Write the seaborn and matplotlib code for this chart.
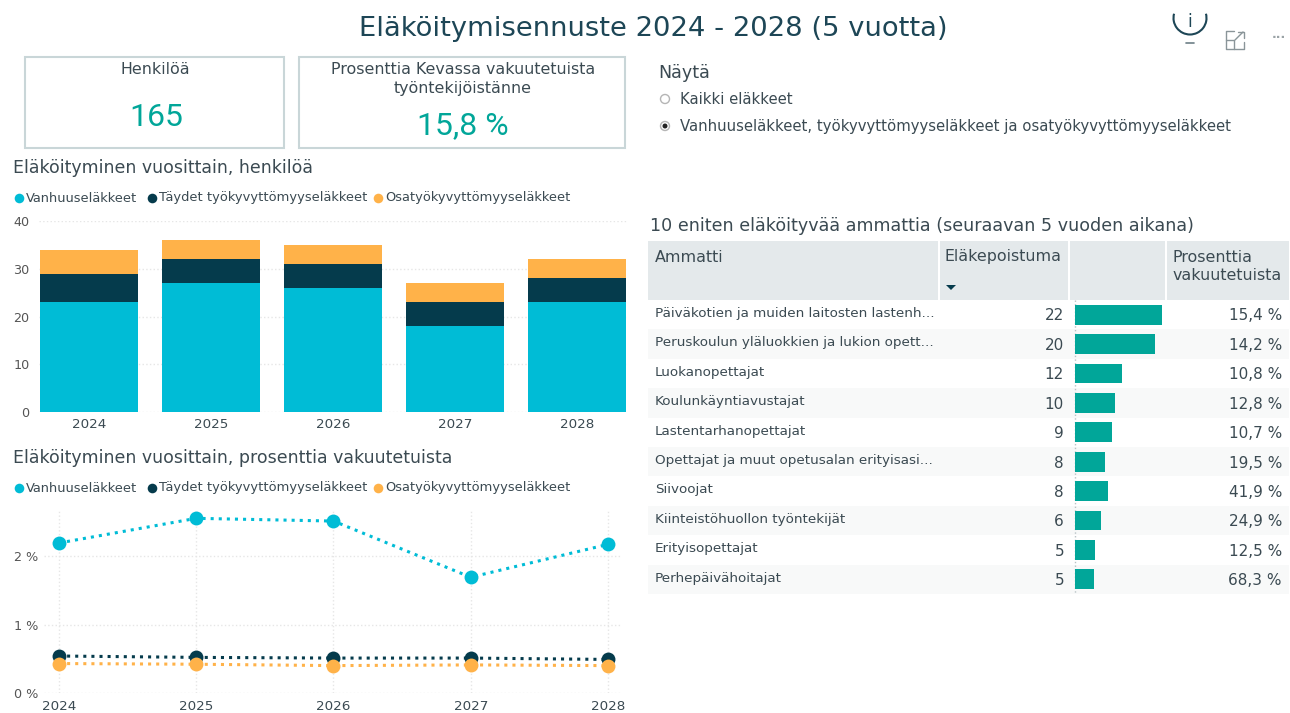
import numpy as np
import pandas as pd
import matplotlib
matplotlib.use("Agg")
import matplotlib.pyplot as plt
from matplotlib.patches import Rectangle, Circle, Arc
import seaborn as sns

years = ["2024", "2025", "2026", "2027", "2028"]
series_names = ["Vanhuuseläkkeet", "Täydet työkyvyttömyyseläkkeet", "Osatyökyvyttömyyseläkkeet"]
persons_old = [23, 27, 26, 18, 23]
persons_full = [6, 5, 5, 5, 5]
persons_part = [5, 4, 4, 4, 4]
pct_old = [2.19, 2.55, 2.51, 1.69, 2.17]
pct_full = [0.54, 0.52, 0.51, 0.51, 0.49]
pct_part = [0.43, 0.42, 0.40, 0.41, 0.40]

occupations = [
    "Päiväkotien ja muiden laitosten lastenh...",
    "Peruskoulun yläluokkien ja lukion opett...",
    "Luokanopettajat",
    "Koulunkäyntiavustajat",
    "Lastentarhanopettajat",
    "Opettajat ja muut opetusalan erityisasi...",
    "Siivoojat",
    "Kiinteistöhuollon työntekijät",
    "Erityisopettajat",
    "Perhepäivähoitajat",
]
retiring_labels = ["22", "20", "12", "10", "9", "8", "8", "6", "5", "5"]
retiring_values = [22, 20.2, 11.9, 10.1, 9.4, 7.6, 8.4, 6.6, 5.1, 4.8]
pct_labels = ["15,4 %", "14,2 %", "10,8 %", "12,8 %", "10,7 %", "19,5 %", "41,9 %", "24,9 %", "12,5 %", "68,3 %"]

CYAN = "#00bcd6"
DARK = "#053b4c"
ORANGE = "#ffb249"
TEAL = "#01a699"
TXT = "#3b4a52"
colors = [CYAN, DARK, ORANGE]

sns.set_theme(style="white")
plt.rcParams["font.family"] = ["DejaVu Sans"]

W, H = 1290, 713
fig = plt.figure(figsize=(W / 100, H / 100), dpi=100, facecolor="white")


def px_axes(x0, y0, x1, y1, **kw):
    return fig.add_axes([x0 / W, 1 - y1 / H, (x1 - x0) / W, (y1 - y0) / H], **kw)


# overlay in pixel coordinates for text, cards and the table background
ov = px_axes(0, 0, W, H, zorder=0)
ov.set_xlim(0, W)
ov.set_ylim(H, 0)
ov.axis("off")

ov.text(653, 29, "Eläköitymisennuste 2024 - 2028 (5 vuotta)", fontsize=19.7, color="#1d4656",
        ha="center", va="center")

# kpi cards
for x0, y0, x1, y1 in [(25, 57, 284, 148), (299, 57, 625, 148)]:
    ov.add_patch(Rectangle((x0, y0), x1 - x0, y1 - y0, fill=False, ec="#c9d6d8", lw=1.5))
ov.text(155, 69, "Henkilöä", fontsize=11.4, color=TXT, ha="center", va="center")
ov.text(463, 69, "Prosenttia Kevassa vakuutetuista", fontsize=11.4, color=TXT, ha="center", va="center")
ov.text(463, 88, "työntekijöistänne", fontsize=11.4, color=TXT, ha="center", va="center")
ov.text(156, 117, "165", fontsize=23, color=TEAL, ha="center", va="center", family="Roboto")
ov.text(463, 126, "15,8 %", fontsize=23, color=TEAL, ha="center", va="center", family="Roboto")

# slicer
ov.text(658, 73, "Näytä", fontsize=12.6, color=TXT, va="center")
ov.text(680, 99, "Kaikki eläkkeet", fontsize=10.7, color=TXT, va="center")
ov.text(680, 126, "Vanhuuseläkkeet, työkyvyttömyyseläkkeet ja osatyökyvyttömyyseläkkeet", fontsize=10.7,
        color=TXT, va="center")
ov.add_patch(Circle((665, 99), 4.5, fc="white", ec="#b5b5b5", lw=1))
ov.add_patch(Circle((665, 126), 4.5, fc="white", ec="#b5b5b5", lw=1))
ov.add_patch(Circle((665, 126), 2.5, fc="#222222", ec="none"))

# header icons
ov.add_patch(Arc((1190, 18), 33, 33, theta1=-15, theta2=195, ec="#1d4656", lw=1.5))
ov.text(1190, 22, "i", fontsize=12, color="#1d4656", ha="center", va="center")
ov.plot([1186, 1194], [43, 43], color="#6d7f86", lw=1.2)
ov.plot([1234, 1226, 1226, 1244, 1244], [31, 31, 49, 49, 42], color="#8a9599", lw=1)
ov.plot([1226, 1234, 1234], [40, 40, 49], color="#8a9599", lw=1)
ov.plot([1235, 1243], [40, 32], color="#8a9599", lw=1)
ov.plot([1238, 1244, 1244], [32, 32, 38], color="#8a9599", lw=1)
ov.text(1279, 37, "···", fontsize=9, color="#9aa3a6", ha="center", va="center", fontweight="bold")

# chart titles and legends
ov.text(13, 168, "Eläköityminen vuosittain, henkilöä", fontsize=12.5, color=TXT, va="center")
ov.text(13, 458, "Eläköityminen vuosittain, prosenttia vakuutetuista", fontsize=12.5, color=TXT, va="center")
for ly in (198, 488):
    for name, color, mx, tx in zip(series_names, colors, (19, 152, 378), (26, 159, 385)):
        ov.scatter([mx], [ly], s=48, color=color, linewidths=0)
        ov.text(tx, ly, name, fontsize=9.4, color=TXT, va="center")

# stacked bars
bar_df = pd.DataFrame({"year": years, "old": persons_old, "full": persons_full, "part": persons_part})
ax1 = px_axes(39, 221, 627, 412, zorder=2)
ax1.patch.set_alpha(0)
ax1.grid(True, ls=":", color="#e6e6e6", lw=1)
ax1.set_axisbelow(True)
bottom = np.zeros(len(years))
for col, color in zip(["old", "full", "part"], colors):
    sns.barplot(data=bar_df, x="year", y=col, color=color, width=0.8, bottom=bottom, ax=ax1,
                saturation=1, linewidth=0)
    bottom = bottom + bar_df[col].values
ax1.set_xlim(-0.41, 4.41)
ax1.set_ylim(0, 40)
ax1.set_yticks([0, 10, 20, 30, 40])
ax1.set_xlabel("")
ax1.set_ylabel("")
ax1.tick_params(axis="y", length=0, pad=6.8, labelsize=9.2, labelcolor="#555555")
ax1.tick_params(axis="x", length=0, pad=4, labelsize=9.7, labelcolor=TXT)
sns.despine(ax=ax1, left=True, bottom=True, top=True, right=True)

# dotted lines
line_df = pd.DataFrame({
    "year": list(range(5)) * 3,
    "value": pct_old + pct_full + pct_part,
    "series": sum([[n] * 5 for n in series_names], []),
})
ax2 = px_axes(44, 511, 622, 693, zorder=2)
ax2.patch.set_alpha(0)
ax2.grid(True, ls=":", color="#e6e6e6", lw=1)
ax2.set_axisbelow(True)
sns.lineplot(data=line_df, x="year", y="value", hue="series", hue_order=series_names, palette=colors,
             marker="o", markersize=10, markeredgewidth=0, linestyle=":", linewidth=2.2, legend=False,
             clip_on=False, ax=ax2)
ax2.set_xlim(-15 / 137.25, 4 + 14 / 137.25)
ax2.set_ylim(0, 182 / 68.5)
ax2.set_xticks(range(5), years)
ax2.set_yticks([0, 1, 2], ["0 %", "1 %", "2 %"])
ax2.set_xlabel("")
ax2.set_ylabel("")
ax2.tick_params(axis="y", length=0, pad=4, labelsize=9.2, labelcolor="#555555")
ax2.tick_params(axis="x", length=0, pad=5, labelsize=9.7, labelcolor=TXT)
sns.despine(ax=ax2, left=True, bottom=True, top=True, right=True)

# table
ov.text(650, 226, "10 eniten eläköityvää ammattia (seuraavan 5 vuoden aikana)", fontsize=12.6, color=TXT,
        va="center")
for x0, x1 in [(648, 938), (940, 1068), (1070, 1165), (1167, 1289)]:
    ov.add_patch(Rectangle((x0, 241), x1 - x0, 59, fc="#e4e9eb", ec="none"))
ov.text(655, 257, "Ammatti", fontsize=11.4, color=TXT, va="center")
ov.text(945, 257, "Eläkepoistuma", fontsize=11.4, color=TXT, va="center")
ov.text(1173, 257, "Prosenttia", fontsize=11.4, color=TXT, va="center")
ov.text(1173, 276, "vakuutetuista", fontsize=11.4, color=TXT, va="center")
ov.fill([946, 956, 951], [285, 285, 290], color=DARK, lw=0)

row_h = 29.4
for i, (occ, lab, pct) in enumerate(zip(occupations, retiring_labels, pct_labels)):
    y0 = 300 + i * row_h
    if i % 2 == 1:
        ov.add_patch(Rectangle((648, y0), 641, row_h, fc="#f8f9f9", ec="none"))
    ov.text(655, y0 + 13.5, occ, fontsize=9.7, color=TXT, va="center")
    ov.text(1064, y0 + 16, lab, fontsize=11, color=TXT, va="center", ha="right")
    ov.text(1282, y0 + 16, pct, fontsize=11, color=TXT, va="center", ha="right")

ax3 = px_axes(1075, 300, 1165, 594, zorder=2)
ax3.patch.set_alpha(0)
table_df = pd.DataFrame({"occ": occupations, "val": retiring_values})
sns.barplot(data=table_df, y="occ", x="val", color=TEAL, saturation=1, width=0.67, linewidth=0, ax=ax3)
ax3.set_xlim(0, 90 / 3.95)
ax3.set_ylim(9.5, -0.5)
ax3.axis("off")
ov.plot([1075, 1075], [300, 594], color="#b8c2c5", lw=1, ls=":")

fig.savefig("out.png", dpi=100)
